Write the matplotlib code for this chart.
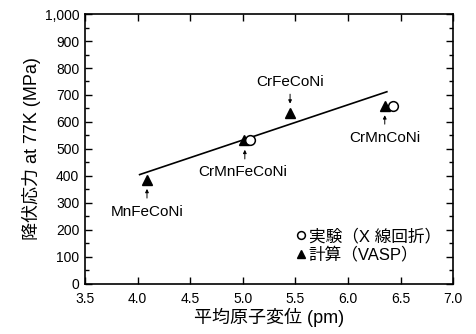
import matplotlib
matplotlib.use("Agg")
import matplotlib.pyplot as plt
from matplotlib.ticker import MultipleLocator, FuncFormatter

plt.rcParams['font.family'] = ['Liberation Sans', 'Noto Sans CJK JP', 'DejaVu Sans']

# experimental (X-ray diffraction)
exp_x = [5.07, 6.43]
exp_y = [535, 660]

# calculation (VASP)
calc_x = [4.09, 5.01, 5.45, 6.35]
calc_y = [385, 533, 633, 659]

# fit line
fit_x = [4.02, 6.37]
fit_y = [405, 712]

# labels: name, point, text position
names = ["MnFeCoNi", "CrMnFeCoNi", "CrFeCoNi", "CrMnCoNi"]
label_pos = [(4.09, 265), (5.0, 415), (5.45, 748), (6.35, 540)]
arrow_tail = [(4.09, 318), (5.02, 463), (5.45, 703), (6.35, 592)]
arrow_head = [(4.09, 352), (5.02, 497), (5.45, 668), (6.35, 625)]

fig = plt.figure(figsize=(4.77, 3.34), dpi=100)
ax = fig.add_axes([0.178, 0.150, 0.772, 0.808])

ax.plot(fit_x, fit_y, color='black', lw=1.2)
ax.plot(calc_x, calc_y, linestyle='none', marker='^', color='black', markersize=6.5,
        label="計算（VASP）", zorder=3)
ax.plot(exp_x, exp_y, linestyle='none', marker='o', markerfacecolor='white',
        markeredgecolor='black', markersize=7, markeredgewidth=1.1,
        label="実験（X 線回折）", zorder=4)

for name, pos, tail, head in zip(names, label_pos, arrow_tail, arrow_head):
    ax.text(pos[0], pos[1], name, ha='center', va='center', fontsize=11)
    ax.annotate("", xy=head, xytext=tail,
                arrowprops=dict(arrowstyle='-|>', color='black', lw=0.7,
                                mutation_scale=5, shrinkA=0, shrinkB=0))

ax.set_xlim(3.5, 7.0)
ax.set_ylim(0, 1000)
ax.xaxis.set_major_locator(MultipleLocator(0.5))
ax.yaxis.set_major_locator(MultipleLocator(100))
ax.yaxis.set_minor_locator(MultipleLocator(50))
ax.xaxis.set_major_formatter(FuncFormatter(lambda v, p: f"{v:.1f}"))
ax.yaxis.set_major_formatter(FuncFormatter(lambda v, p: f"{int(v):,}"))
ax.tick_params(which='both', direction='in', top=True, right=True, labelsize=10, width=1)
ax.tick_params(which='major', length=5)
ax.tick_params(which='minor', length=3)
ax.tick_params(axis='x', pad=6)
ax.tick_params(axis='y', pad=4)
for s in ax.spines.values():
    s.set_linewidth(1.2)

ax.set_xlabel("平均原子変位 (pm)", fontsize=13, labelpad=1)
ax.set_ylabel("降伏応力 at 77K (MPa)", fontsize=13, labelpad=3)

h, l = ax.get_legend_handles_labels()
ax.legend(h[::-1], l[::-1], loc='lower right', frameon=False, fontsize=12,
          handletextpad=0.05, handlelength=0.9, borderaxespad=0.0,
          labelspacing=0.15, markerscale=0.8, bbox_to_anchor=(0.985, 0.055))

fig.savefig("out.png", dpi=100)
